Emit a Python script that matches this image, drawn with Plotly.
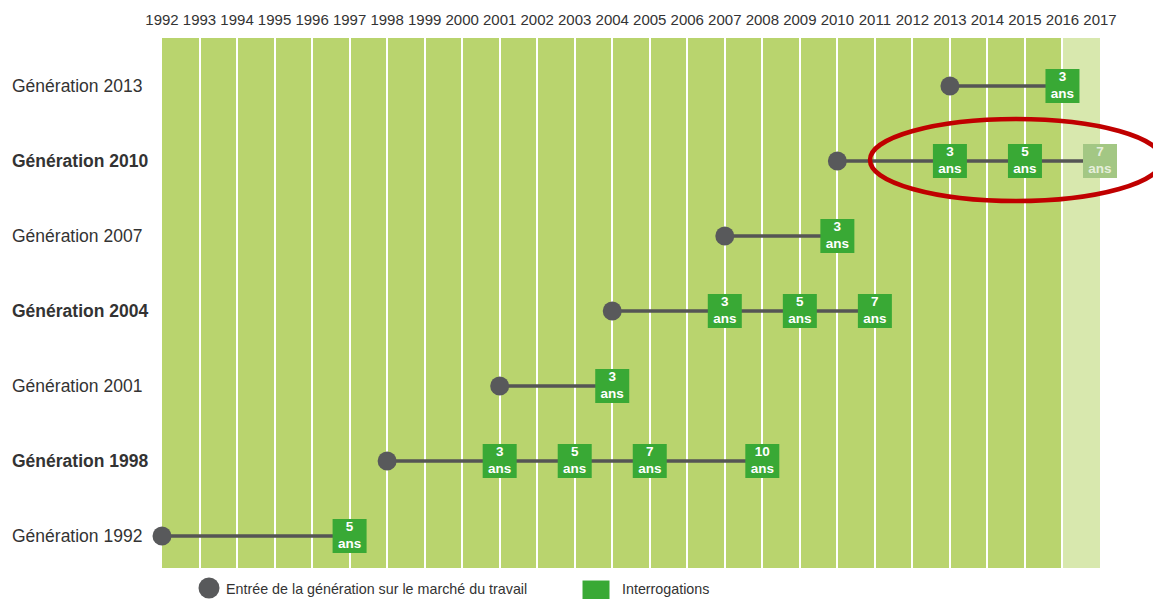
import plotly.graph_objects as go

# ---------------- data ----------------
years = list(range(1992, 2018))
generations = [1992, 1998, 2001, 2004, 2007, 2010, 2013]
gen_labels = ["Génération 1992", "Génération 1998", "Génération 2001", "Génération 2004",
              "Génération 2007", "Génération 2010", "Génération 2013"]
bold_generations = [1998, 2004, 2010]
# years after entry at which each generation was surveyed
interro_1992 = [5]
interro_1998 = [3, 5, 7, 10]
interro_2001 = [3]
interro_2004 = [3, 5, 7]
interro_2007 = [3]
interro_2010 = [3, 5]
interro_2013 = [3]
planned_2010 = [7]          # future (faded) survey
interrogations = [interro_1992, interro_1998, interro_2001, interro_2004,
                  interro_2007, interro_2010, interro_2013]
planned = [[], [], [], [], [], planned_2010, []]
legend_entry = "Entrée de la génération sur le marché du travail"
legend_interro = "Interrogations"

# ---------------- styles ----------------
GREEN_BG = "#b9d46e"
LIGHT_BG = "#d8e8ae"
SQ = "#39a935"
SQ_FADED = "#a3c784"
DOT = "#58595b"
LINE = "#555555"
TXT = "#333333"
FONT = "Arial, Liberation Sans, sans-serif"

fig = go.Figure()

for i, g in enumerate(generations):
    last = max(interrogations[i] + planned[i])
    fig.add_trace(go.Scatter(x=[g, g + last], y=[i, i], mode="lines",
                             line=dict(color=LINE, width=3.5),
                             hoverinfo="skip", showlegend=False, cliponaxis=False))
    fig.add_trace(go.Scatter(x=[g], y=[i], mode="markers",
                             marker=dict(symbol="circle", size=19, color=DOT),
                             hoverinfo="skip", showlegend=False, cliponaxis=False))
    xs = [g + k for k in interrogations[i]]
    fig.add_trace(go.Scatter(x=xs, y=[i] * len(xs), mode="markers+text",
                             marker=dict(symbol="square", size=34, color=SQ),
                             text=[f"{k}<br>ans" for k in interrogations[i]],
                             textposition="middle center",
                             textfont=dict(family=FONT, size=13.5, color="white", weight="bold"),
                             hoverinfo="skip", showlegend=False, cliponaxis=False))
    if planned[i]:
        xp = [g + k for k in planned[i]]
        fig.add_trace(go.Scatter(x=xp, y=[i] * len(xp), mode="markers+text",
                                 marker=dict(symbol="square", size=34, color=SQ_FADED),
                                 text=[f"{k}<br>ans" for k in planned[i]],
                                 textposition="middle center",
                                 textfont=dict(family=FONT, size=13.5, color="#e6efdc", weight="bold"),
                                 hoverinfo="skip", showlegend=False, cliponaxis=False))

# row labels
for i, (g, lab) in enumerate(zip(generations, gen_labels)):
    txt = f"<b>{lab}</b>" if g in bold_generations else lab
    fig.add_annotation(x=-0.1625, xref="paper", y=i, yref="y", text=txt, showarrow=False,
                       xanchor="left", yanchor="middle",
                       font=dict(family=FONT, size=17.5, color=TXT))

# legend (manual, below the plot area, in paper coordinates)
fig.add_shape(type="circle", xref="paper", yref="paper", xsizemode="pixel", ysizemode="pixel",
              xanchor=0.0501, yanchor=-0.0377, x0=-10.5, x1=10.5, y0=-10.5, y1=10.5,
              fillcolor=DOT, line=dict(width=0), layer="above")
fig.add_shape(type="rect", xref="paper", yref="paper", xsizemode="pixel", ysizemode="pixel",
              xanchor=0.4627, yanchor=-0.0491, x0=-13.5, x1=13.5, y0=-13.5, y1=13.5,
              fillcolor=SQ, line=dict(width=0), layer="above")
fig.add_annotation(x=0.066, xref="paper", y=-0.0396, yref="paper", text=legend_entry,
                   showarrow=False, xanchor="left", yanchor="middle",
                   font=dict(family=FONT, size=14.3, color=TXT))
fig.add_annotation(x=0.488, xref="paper", y=-0.0396, yref="paper", text=legend_interro,
                   showarrow=False, xanchor="left", yanchor="middle",
                   font=dict(family=FONT, size=14.3, color=TXT))

# light "future" column
fig.add_shape(type="rect", x0=2016, x1=2017, y0=0, y1=1, yref="paper",
              fillcolor=LIGHT_BG, line=dict(width=0), layer="below")

# red highlight ellipse (paper coords so it is not clipped)
fig.add_shape(type="circle", xref="paper", yref="paper",
              x0=0.7548, x1=1.066, y0=0.6925, y1=0.8472,
              line=dict(color="#c00000", width=4.5), layer="above")

fig.update_xaxes(range=[1992, 2017], side="top", tickvals=years, ticktext=[str(y) for y in years],
                 showgrid=True, gridcolor="white", gridwidth=2, zeroline=False,
                 tickfont=dict(family=FONT, size=15, color=TXT), ticks="", showline=False,
                 tickangle=0, automargin=False, ticklabelstandoff=9, fixedrange=True)
fig.update_yaxes(range=[-0.427, 6.64], showgrid=False, zeroline=False, showticklabels=False,
                 automargin=False, fixedrange=True)

# the page body adds an 8px margin: shift/shrink so the plot area lands at x 162-1100, y 38-568
fig.update_layout(width=1153, height=591, margin=dict(l=154, r=61, t=30, b=31),
                  plot_bgcolor=GREEN_BG, paper_bgcolor="white", showlegend=False)

fig.write_html("out.html")
